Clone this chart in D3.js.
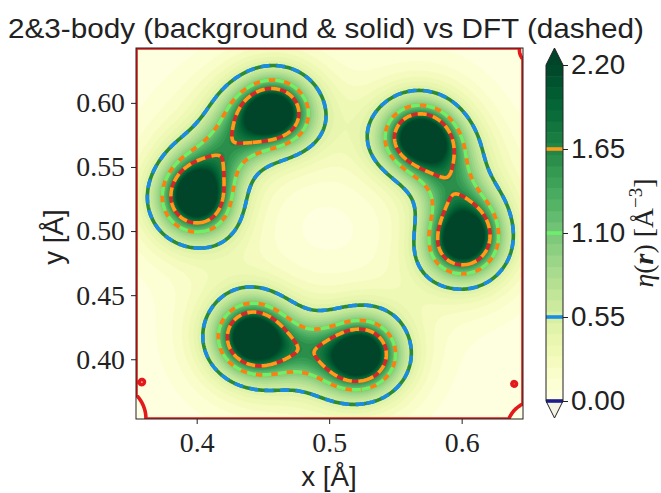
<!DOCTYPE html>
<html><head><meta charset="utf-8">
<script src="https://cdn.jsdelivr.net/npm/d3@7"></script>
<style>body{margin:0;background:#fff} svg{display:block}</style>
</head><body>
<svg id="chart" width="661" height="493"></svg>
<script>
// ---------- data ----------
// lobe (atom) centres [Å] and peak strength
const atomX   = [0.401, 0.4576, 0.5685, 0.6002, 0.4432, 0.5232];
const atomY   = [0.526, 0.5909, 0.5713, 0.4935, 0.4173, 0.4040];
const atomAmp = [5.1, 5.1, 5.1, 5.1, 5.1, 5.1];
// molecules: pair of lobes, where the neck centre lies, neck density
const molAtomA = [0, 2, 4];
const molAtomB = [1, 3, 5];
const neckX    = [0.4227, 0.5919, 0.4825];
const neckY    = [0.5642, 0.5355, 0.4067];
const neckAmp  = [0.80, 0.75, 0.68];
// slightly negative regions near the corners (red zero contour)
const dipX   = [0.347, 0.3593, 0.651, 0.6393, 0.653];
const dipY   = [0.361, 0.3827, 0.349, 0.3811, 0.640];
const dipAmp = [0.023, 0.0245, 0.011, 0.0108, 0.074];
const dipW   = [0.014, 0.0028, 0.012, 0.0028, 0.005];
// model shape constants [Å]
const decayLen = 0.0169, coreLen = 0.003, neckAlong = 0.030, neckPerp = 0.015, bendLen = 0.025;

const xTicks = [0.4, 0.5, 0.6];
const yTicks = [0.40, 0.45, 0.50, 0.55, 0.60];
const cbTicks = [0.00, 0.55, 1.10, 1.65, 2.20];
const vMin = 0.0, vMax = 2.2, nBands = 30;
const lineLevels   = [0.00, 0.55, 1.10, 1.65];
const solidColors  = ["#e31a1c", "#2a8a36", "#ff7f0e", "#d62728"];
const dashedColors = ["#1c1c8a", "#1a8ce6", "#6cf06c", "#ff9a1a"];
const xDomain = [0.3542, 0.6463];
const yDomain = [0.3534, 0.6428];

// ---------- layout ----------
const svg = d3.select("#chart");
const L = 136, R = 523, T = 48, B = 419;
const xScale = d3.scaleLinear(xDomain, [L, R]);
const yScale = d3.scaleLinear(yDomain, [B, T]);
const serif = "'Liberation Serif', 'DejaVu Serif', serif";
const sans = "'Liberation Sans', 'DejaVu Sans', sans-serif";
const fs = 27.8;

function field(x, y) {
  let v = 0;
  for (let k = 0; k < molAtomA.length; k++) {
    const a = molAtomA[k], b = molAtomB[k];
    const mx = (atomX[a] + atomX[b]) / 2, my = (atomY[a] + atomY[b]) / 2;
    let ux = atomX[b] - atomX[a], uy = atomY[b] - atomY[a];
    const len = Math.hypot(ux, uy); ux /= len; uy /= len;
    // bend the molecule so that its neck sits at (neckX, neckY)
    const along0 = (x - mx)*ux + (y - my)*uy;
    const wgt = Math.exp(-along0*along0 / (2*bendLen*bendLen));
    const px = x - (neckX[k] - mx)*wgt, py = y - (neckY[k] - my)*wgt;
    [a, b].forEach(i => {
      const dx = px - atomX[i], dy = py - atomY[i];
      v += atomAmp[i] * Math.exp(-Math.sqrt(dx*dx + dy*dy + coreLen*coreLen) / decayLen);
    });
    const dx = px - mx, dy = py - my;
    const al = dx*ux + dy*uy, pe = -dx*uy + dy*ux;
    v += neckAmp[k] * Math.exp(-al*al/(2*neckAlong*neckAlong) - pe*pe/(2*neckPerp*neckPerp));
  }
  for (let k = 0; k < dipX.length; k++) {
    const dx = x - dipX[k], dy = y - dipY[k];
    v -= dipAmp[k] * Math.exp(-(dx*dx + dy*dy) / (2*dipW[k]*dipW[k]));
  }
  return v;
}

const nx = 320, ny = 320;
const gdx = (xDomain[1] - xDomain[0]) / nx, gdy = (yDomain[1] - yDomain[0]) / ny;
const values = new Float64Array(nx * ny);
for (let j = 0; j < ny; j++) for (let i = 0; i < nx; i++)
  values[j*nx + i] = field(xDomain[0] + (i + 0.5)*gdx, yDomain[1] - (j + 0.5)*gdy);

const contours = d3.contours().size([nx, ny]);
const proj = d3.geoTransform({ point(px, py) {
  this.stream.point(xScale(xDomain[0] + px*gdx), yScale(yDomain[1] - py*gdy)); } });
const path = d3.geoPath(proj);

svg.append("defs").append("clipPath").attr("id", "clip")
  .append("rect").attr("x", L).attr("y", T).attr("width", R - L).attr("height", B - T);

const fillLevels = d3.range(nBands + 1).map(k => vMin + k*(vMax - vMin)/nBands);
const bandColor = k => k >= nBands ? d3.interpolateYlGn(1) : d3.interpolateYlGn((k + 0.5)/nBands);
const underColor = "#ffffe5";

const gPlot = svg.append("g").attr("clip-path", "url(#clip)");
gPlot.append("rect").attr("x", L).attr("y", T).attr("width", R - L).attr("height", B - T).attr("fill", underColor);
fillLevels.forEach((t, k) => {
  gPlot.append("path").attr("d", path(contours.contour(values, t)))
    .attr("fill", bandColor(k)).attr("stroke", bandColor(k)).attr("stroke-width", 0.4);
});
// solid (2&3-body) contours
lineLevels.forEach((t, k) => {
  gPlot.append("path").attr("d", path(contours.contour(values, t)))
    .attr("fill", "none").attr("stroke", solidColors[k]).attr("stroke-width", 3.6);
});
// dashed (DFT) contours
lineLevels.forEach((t, k) => {
  if (k === 0) return;
  gPlot.append("path").attr("d", path(contours.contour(values, t)))
    .attr("fill", "none").attr("stroke", dashedColors[k]).attr("stroke-width", 3.6)
    .attr("stroke-dasharray", "9,6.5");
});

// frame
svg.append("rect").attr("x", L).attr("y", T).attr("width", R - L).attr("height", B - T)
  .attr("fill", "none").attr("stroke", "#222").attr("stroke-width", 1);

// axes
const xAxis = svg.append("g").attr("transform", `translate(0,${B})`)
  .call(d3.axisBottom(xScale).tickValues(xTicks).tickFormat(d3.format(".1f")).tickSize(5).tickPadding(8));
const yAxis = svg.append("g").attr("transform", `translate(${L},0)`)
  .call(d3.axisLeft(yScale).tickValues(yTicks).tickFormat(d3.format(".2f")).tickSize(5).tickPadding(6));
[xAxis, yAxis].forEach(a => {
  a.select(".domain").remove();
  a.selectAll("line").attr("stroke", "#222");
  a.selectAll("text").style("font-family", serif).style("font-size", fs + "px").attr("fill", "#222");
});

// labels
svg.append("text").attr("x", 329).attr("y", 486).attr("text-anchor", "middle")
  .style("font-family", sans).style("font-size", fs + "px").attr("fill", "#222").text("x [Å]");
svg.append("text").attr("transform", "translate(63,237) rotate(-90)").attr("text-anchor", "middle")
  .style("font-family", sans).style("font-size", fs + "px").attr("fill", "#222").text("y [Å]");
svg.append("text").attr("x", 326).attr("y", 38).attr("text-anchor", "middle")
  .attr("textLength", 636).attr("lengthAdjust", "spacingAndGlyphs")
  .style("font-family", sans).style("font-size", fs + "px").attr("fill", "#222")
  .text("2&3-body (background & solid) vs DFT (dashed)");

// colorbar
const cbL = 546, cbR = 563, cbT = 65, cbB = 401, ext = 17;
const cbScale = d3.scaleLinear([vMin, vMax], [cbB, cbT]);
const gCb = svg.append("g");
d3.range(nBands).forEach(k => {
  gCb.append("rect").attr("x", cbL).attr("width", cbR - cbL)
    .attr("y", cbScale(fillLevels[k + 1])).attr("height", cbScale(fillLevels[k]) - cbScale(fillLevels[k + 1]) + 0.5)
    .attr("fill", bandColor(k));
});
const cx = (cbL + cbR) / 2;
gCb.append("path").attr("d", `M${cbL},${cbT}L${cx},${cbT - ext}L${cbR},${cbT}Z`).attr("fill", bandColor(nBands));
gCb.append("path").attr("d", `M${cbL},${cbB}L${cx},${cbB + ext}L${cbR},${cbB}Z`).attr("fill", "#f4f4e4");
lineLevels.forEach((t, k) => {
  gCb.append("line").attr("x1", cbL).attr("x2", cbR).attr("y1", cbScale(t)).attr("y2", cbScale(t))
    .attr("stroke", dashedColors[k]).attr("stroke-width", 3.6);
});
gCb.append("path").attr("d", `M${cbL},${cbT}L${cx},${cbT - ext}L${cbR},${cbT}L${cbR},${cbB}L${cx},${cbB + ext}L${cbL},${cbB}Z`)
  .attr("fill", "none").attr("stroke", "#222").attr("stroke-width", 1);
const cbAxis = svg.append("g").attr("transform", `translate(${cbR},0)`)
  .call(d3.axisRight(cbScale).tickValues(cbTicks).tickFormat(d3.format(".2f")).tickSize(5).tickPadding(3));
cbAxis.select(".domain").remove();
cbAxis.selectAll("line").attr("stroke", "#222");
cbAxis.selectAll("text").style("font-family", sans).style("font-size", fs + "px").attr("fill", "#222");

const lab = svg.append("text").attr("transform", "translate(653,233) rotate(-90)").attr("text-anchor", "middle")
  .style("font-family", serif).style("font-size", fs + "px").attr("fill", "#222");
lab.append("tspan").style("font-style", "italic").text("η");
lab.append("tspan").text("(");
lab.append("tspan").style("font-style", "italic").style("font-weight", "bold").text("r");
lab.append("tspan").text(") [Å");
lab.append("tspan").attr("dy", -11).style("font-size", "19px").text("−3");
lab.append("tspan").attr("dy", 11).text("]");
</script>
</body></html>
